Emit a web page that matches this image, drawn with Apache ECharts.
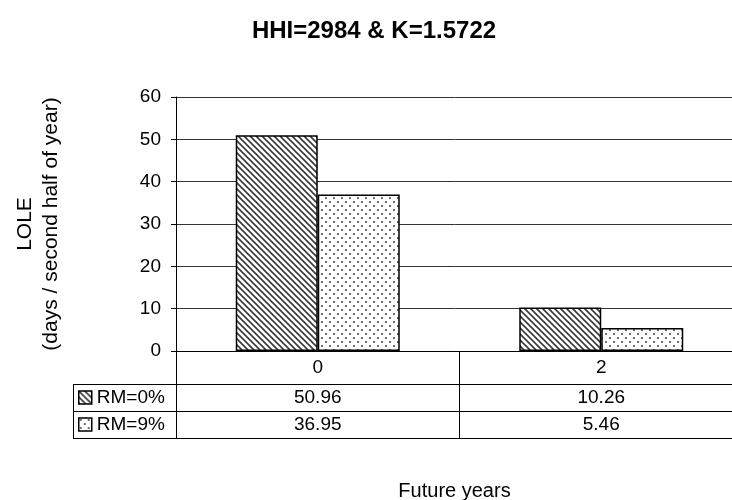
<!DOCTYPE html>
<html>
<head>
<meta charset="utf-8">
<title>LOLE</title>
<script src="https://cdn.jsdelivr.net/npm/echarts@6/dist/echarts.min.js"></script>
<style>
  html, body { margin: 0; padding: 0; background: #fff; }
  #main { width: 732px; height: 500px; }
</style>
</head>
<body>
<div id="main"></div>
<script>
// data
const categories = ["0", "2"];
const seriesNames = ["RM=0%", "RM=9%"];
const rm0 = [50.96, 10.26];
const rm9 = [36.95, 5.46];
const yMin = 0, yMax = 60, yStep = 10;

const font = "'Liberation Sans', Arial, sans-serif";

// layout of the plot and the data table under it
const gridLeft = 176, gridTop = 97, gridWidth = 567, gridHeight = 254;
const rowH = [33, 27, 27];
const tableLeft = 73;
const axisY = gridTop + gridHeight;
const tableBottom = axisY + rowH[0] + rowH[1] + rowH[2];

// fill patterns: back-slash hatching and staggered dots
function hatchTile() {
  const c = document.createElement("canvas");
  c.width = 6; c.height = 6;
  const g = c.getContext("2d");
  g.fillStyle = "#fff";
  g.fillRect(0, 0, 6, 6);
  g.strokeStyle = "#3a3a3a";
  g.lineWidth = 1.6;
  g.beginPath();
  g.moveTo(-1, -1); g.lineTo(7, 7);
  g.moveTo(-1, 5); g.lineTo(1, 7);
  g.moveTo(5, -1); g.lineTo(7, 1);
  g.stroke();
  return c;
}
function dotTile() {
  const c = document.createElement("canvas");
  c.width = 8; c.height = 8;
  const g = c.getContext("2d");
  g.fillStyle = "#fff";
  g.fillRect(0, 0, 8, 8);
  g.fillStyle = "#333";
  g.beginPath(); g.arc(2, 2, 0.95, 0, Math.PI * 2); g.fill();
  g.beginPath(); g.arc(6, 6, 0.95, 0, Math.PI * 2); g.fill();
  return c;
}
const hatch = { image: hatchTile(), repeat: "repeat" };
const dots = { image: dotTile(), repeat: "repeat" };

// table lines (layout only, the numbers come from the axis labels)
function hLine(y) {
  return { type: "line", shape: { x1: tableLeft, y1: y, x2: gridLeft + gridWidth, y2: y },
    style: { stroke: "#000", lineWidth: 1 }, silent: true };
}
const tableLines = [
  hLine(axisY + rowH[0] + 0.5),
  hLine(axisY + rowH[0] + rowH[1] + 0.5),
  hLine(tableBottom + 0.5),
  { type: "line", shape: { x1: tableLeft + 0.5, y1: axisY + rowH[0], x2: tableLeft + 0.5, y2: tableBottom + 1 },
    style: { stroke: "#000", lineWidth: 1 }, silent: true },
];

const chart = echarts.init(document.getElementById("main"));

const option = {
  backgroundColor: "#fff",
  animation: false,
  title: {
    text: "HHI=2984 & K=1.5722",
    left: 369,
    top: 14,
    textAlign: "center",
    textStyle: { fontFamily: font, fontSize: 24, fontWeight: "bold", color: "#000" },
  },
  legend: {
    orient: "vertical",
    left: 78,
    top: axisY + rowH[0] + 4,
    padding: 0,
    itemWidth: 13,
    itemHeight: 13,
    itemGap: 8,
    icon: "rect",
    data: seriesNames,
    itemStyle: { borderColor: "#000", borderWidth: 1.5 },
    textStyle: { fontFamily: font, fontSize: 19, color: "#000", lineHeight: 19 },
  },
  grid: { left: gridLeft, top: gridTop, width: gridWidth, height: gridHeight, outerBoundsMode: "none" },
  xAxis: {
    type: "category",
    data: categories,
    name: "Future years",
    nameLocation: "middle",
    nameGap: 130,
    nameTextStyle: { fontFamily: font, fontSize: 20, color: "#000", verticalAlign: "top", padding: [0, 10, 0, 0] },
    axisLine: { lineStyle: { color: "#000", width: 1 } },
    // ticks between categories double as the table's column lines
    axisTick: { show: true, interval: 0, alignWithLabel: false, length: tableBottom - axisY + 1,
      lineStyle: { color: "#000", width: 1 } },
    axisLabel: {
      margin: 0,
      interval: 0,
      formatter: function (value, idx) {
        return "{h|" + value + "}\n{a|" + rm0[idx].toFixed(2) + "}\n{b|" + rm9[idx].toFixed(2) + "}";
      },
      rich: {
        h: { fontFamily: font, fontSize: 19, color: "#000", lineHeight: rowH[0] },
        a: { fontFamily: font, fontSize: 19, color: "#000", lineHeight: rowH[1] },
        b: { fontFamily: font, fontSize: 19, color: "#000", lineHeight: rowH[2] },
      },
    },
  },
  yAxis: {
    type: "value",
    min: yMin,
    max: yMax,
    interval: yStep,
    name: "LOLE\n(days / second half of year)",
    nameLocation: "middle",
    nameGap: 112,
    nameTextStyle: { fontFamily: font, fontSize: 21, color: "#000", lineHeight: 26, align: "center" },
    axisLine: { show: true, lineStyle: { color: "#000", width: 1 } },
    axisTick: { show: true, length: 5, lineStyle: { color: "#000" } },
    axisLabel: { margin: 15, fontFamily: font, fontSize: 19, color: "#000" },
    splitLine: { show: true, lineStyle: { color: "#333", width: 1 } },
  },
  series: [
    {
      name: seriesNames[0],
      type: "bar",
      data: rm0,
      barWidth: 82,
      barGap: "0%",
      itemStyle: { color: hatch, borderColor: "#000", borderWidth: 1.5 },
    },
    {
      name: seriesNames[1],
      type: "bar",
      data: rm9,
      barWidth: 82,
      barGap: "0%",
      itemStyle: { color: dots, borderColor: "#000", borderWidth: 1.5 },
    },
  ],
  graphic: tableLines,
};

chart.setOption(option);
</script>
</body>
</html>
